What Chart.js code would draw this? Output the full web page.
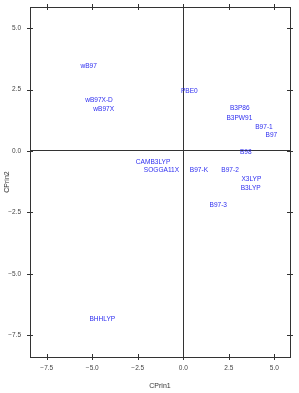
<!DOCTYPE html>
<html>
<head>
<meta charset="utf-8">
<script src="https://cdn.jsdelivr.net/npm/chart.js@4/dist/chart.umd.min.js"></script>
<style>
    html, body { margin: 0; padding: 0; background: #fff; }
    #wrap { width: 299px; height: 393px; }
</style>
</head>
<body>
<div id="wrap"><canvas id="c" width="299" height="393"></canvas></div>
<script>
// Principal component scores per functional
const NAMES = ['wB97', 'wB97X-D', 'wB97X', 'PBE0', 'B3P86', 'B3PW91', 'B97-1', 'B97', 'B98',
    'CAMB3LYP', 'SOGGA11X', 'B97-K', 'B97-2', 'X3LYP', 'B3LYP', 'B97-3', 'BHHLYP'];
const PRIN1 = [-5.2, -4.63, -4.37, 0.33, 3.1, 3.08, 4.43, 4.84, 3.43, -1.66, -1.2, 0.86, 2.57, 3.74, 3.7, 1.92, -4.45];
const PRIN2 = [3.47, 2.08, 1.72, 2.46, 1.74, 1.36, 0.99, 0.65, -0.05, -0.44, -0.77, -0.77, -0.77, -1.14, -1.49, -2.2, -6.84];
const TICKS = [-7.5, -5.0, -2.5, 0.0, 2.5, 5.0];

const FONT = "'Liberation Sans Narrow', 'Liberation Sans', Arial, sans-serif";
const AXIS_COLOR = '#333';

const fmt = v => v.toFixed(1).replace('-', '\u2212');

// text labels at each point, box + crossing ticks on all four sides
const labelPlugin = {
    id: 'labels',
    afterDatasetsDraw(chart) {
        const ctx = chart.ctx;
        const meta = chart.getDatasetMeta(0);
        ctx.save();
        ctx.font = '8px ' + FONT;
        ctx.fillStyle = '#2d2df0';
        ctx.textAlign = 'center';
        ctx.textBaseline = 'middle';
        meta.data.forEach((pt, i) => {
            ctx.save();
            ctx.translate(pt.x, pt.y);
            ctx.scale(0.82, 1);  // the original font is condensed
            ctx.fillText(NAMES[i], 0, 0);
            ctx.restore();
        });
        ctx.restore();
    },
    afterDraw(chart) {
        const ctx = chart.ctx;
        const a = chart.chartArea;
        const xs = chart.scales.x, ys = chart.scales.y;
        ctx.save();
        ctx.strokeStyle = AXIS_COLOR;
        ctx.lineWidth = 1;
        ctx.strokeRect(a.left + 0.5, a.top + 0.5, a.right - a.left, a.bottom - a.top);
        ctx.beginPath();
        TICKS.forEach(v => {
            const px = Math.round(xs.getPixelForValue(v)) + 0.5;
            ctx.moveTo(px, a.top - 3); ctx.lineTo(px, a.top + 3);
            ctx.moveTo(px, a.bottom - 3); ctx.lineTo(px, a.bottom + 3);
            const py = Math.round(ys.getPixelForValue(v)) + 0.5;
            ctx.moveTo(a.left - 3, py); ctx.lineTo(a.left + 3, py);
            ctx.moveTo(a.right - 3, py); ctx.lineTo(a.right + 3, py);
        });
        ctx.stroke();
        ctx.restore();
    }
};

const zeroGrid = {
    color: ctx => (ctx.tick && ctx.tick.value === 0) ? AXIS_COLOR : 'rgba(0,0,0,0)',
    drawTicks: false,
    lineWidth: 1
};

new Chart(document.getElementById('c'), {
    type: 'scatter',
    data: {
        datasets: [{
            data: PRIN1.map((x, i) => ({ x, y: PRIN2[i] })),
            pointRadius: 0,
            pointHoverRadius: 0
        }]
    },
    options: {
        responsive: false,
        animation: false,
        events: [],
        layout: { padding: { top: 7, right: 9, left: 0, bottom: 1 } },
        plugins: { legend: { display: false }, tooltip: { enabled: false } },
        scales: {
            x: {
                type: 'linear',
                min: -8.42,
                max: 5.86,
                afterBuildTicks: s => { s.ticks = TICKS.map(v => ({ value: v })); },
                afterFit: s => { s.height = 35; s.paddingLeft = 0; s.paddingRight = 0; },
                grid: zeroGrid,
                border: { display: false },
                ticks: {
                    color: '#444',
                    font: { size: 6.5, family: FONT },
                    padding: 7,
                    maxRotation: 0,
                    callback: fmt
                },
                title: {
                    display: true,
                    text: 'CPrin1',
                    color: '#333',
                    font: { size: 7, family: FONT },
                    padding: { top: 0, bottom: 2 }
                }
            },
            y: {
                type: 'linear',
                min: -8.39,
                max: 5.86,
                afterBuildTicks: s => { s.ticks = TICKS.map(v => ({ value: v })); },
                afterFit: s => { s.width = 30; s.paddingTop = 0; s.paddingBottom = 0; },
                grid: zeroGrid,
                border: { display: false },
                ticks: {
                    color: '#444',
                    font: { size: 6.5, family: FONT },
                    padding: 9,
                    callback: fmt
                },
                title: {
                    display: true,
                    text: 'CPrin2',
                    color: '#333',
                    font: { size: 7, family: FONT },
                    padding: { top: 3, bottom: 0 }
                }
            }
        }
    },
    plugins: [labelPlugin]
});
</script>
</body>
</html>
